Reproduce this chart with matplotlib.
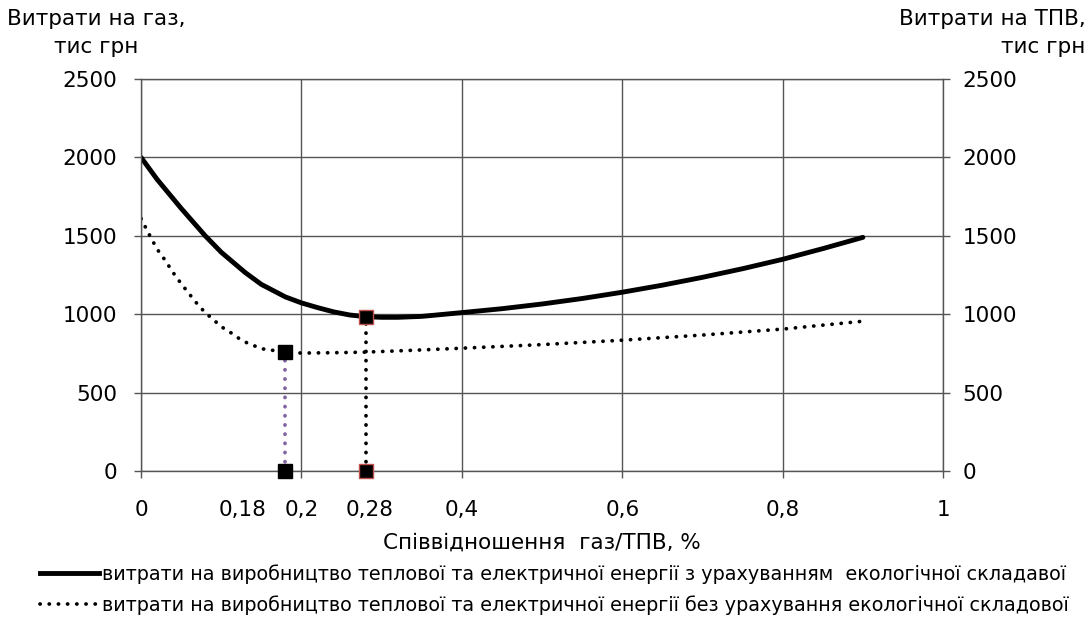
import matplotlib
matplotlib.use('Agg')
import matplotlib.pyplot as plt
import matplotlib.transforms as mtransforms
from matplotlib.lines import Line2D

plt.rcParams['font.family'] = ['DejaVu Sans']

# співвідношення газ/ТПВ
x_eco = [0, 0.02, 0.05, 0.08, 0.1, 0.13, 0.15, 0.18, 0.2, 0.22, 0.24, 0.26, 0.28,
         0.3, 0.32, 0.35, 0.4, 0.45, 0.5, 0.55, 0.6, 0.65, 0.7, 0.75, 0.8, 0.85, 0.9]
cost_eco = [2000, 1860, 1675, 1500, 1395, 1265, 1190, 1110, 1072, 1042, 1015, 995, 984,
            980, 980, 986, 1010, 1035, 1065, 1100, 1140, 1185, 1235, 1290, 1350, 1418, 1490]

x_no_eco = [0, 0.01, 0.02, 0.03, 0.04, 0.05, 0.06, 0.07, 0.08, 0.09, 0.1, 0.11,
            0.12, 0.13, 0.15, 0.18, 0.2, 0.25, 0.28, 0.3, 0.35, 0.4, 0.5, 0.6,
            0.7, 0.8, 0.9]
cost_no_eco = [1610, 1510, 1415, 1344, 1265, 1195, 1130, 1066, 1010, 966, 920, 889,
               852, 822, 780, 758, 752, 755, 758, 762, 772, 783, 806, 834,
               867, 905, 955]

opt_no_eco = (0.18, 758)
opt_eco = (0.28, 982)

x_ticks = [0, 0.2, 0.4, 0.6, 0.8, 1]
x_labels = ['0', '0,2', '0,4', '0,6', '0,8', '1']
y_ticks = [0, 500, 1000, 1500, 2000, 2500]

label_eco = 'витрати на виробництво теплової та електричної енергії з урахуванням  екологічної складавої'
label_no_eco = 'витрати на виробництво теплової та електричної енергії без урахування екологічної складової'

grid_c = '#555555'
fs = 15.5
dots = (0, (0.05, 2.4))

fig = plt.figure(figsize=(10.9, 6.22), dpi=100)
ax = fig.add_axes([0.1294, 0.2428, 0.7358, 0.6302])

ax.set_xlim(0, 1)
ax.set_ylim(0, 2500)
ax.set_xticks(x_ticks)
ax.set_xticklabels(x_labels)
ax.set_yticks(y_ticks)
ax.grid(True, color=grid_c, linewidth=1.0)
ax.set_axisbelow(True)
for s in ax.spines.values():
    s.set_color(grid_c)
    s.set_linewidth(1.0)
ax.tick_params(axis='both', colors=grid_c, labelcolor='black', labelsize=fs,
               length=5, width=1.0)
ax.tick_params(axis='x', pad=16)
ax.tick_params(axis='y', pad=12)

ax2 = ax.twinx()
ax2.set_ylim(0, 2500)
ax2.set_yticks(y_ticks)
ax2.tick_params(axis='y', colors=grid_c, labelcolor='black', labelsize=fs,
                length=5, width=1.0, pad=9)
for s in ax2.spines.values():
    s.set_visible(False)

# криві
ax.plot(x_eco, cost_eco, color='black', linewidth=3.5, solid_capstyle='round',
        solid_joinstyle='round')
ax.plot(x_no_eco, cost_no_eco, color='black', linewidth=2.7,
        linestyle=dots, dash_capstyle='round')

# оптимуми
ax.plot([opt_no_eco[0], opt_no_eco[0]], [0, opt_no_eco[1]], color='#8064A2',
        linewidth=2.7, linestyle=dots, dash_capstyle='round')
ax.plot([opt_eco[0], opt_eco[0]], [0, opt_eco[1]], color='black',
        linewidth=2.7, linestyle=dots, dash_capstyle='round')
ax.plot([opt_no_eco[0], opt_no_eco[0]], [0, opt_no_eco[1]], linestyle='none',
        marker='s', markersize=9.5, color='black', clip_on=False, zorder=5)
ax.plot([opt_eco[0], opt_eco[0]], [0, opt_eco[1]], linestyle='none',
        marker='s', markersize=9.5, markerfacecolor='black',
        markeredgecolor='#C0504D', markeredgewidth=1.0, clip_on=False, zorder=5)

# додаткові підписи осі x
trans = mtransforms.blended_transform_factory(ax.transData, ax.transAxes)
ax.annotate('0,18', xy=(opt_no_eco[0], 0), xycoords=trans, xytext=(-31, -21),
            textcoords='offset points', ha='center', va='top', fontsize=fs)
ax.annotate('0,28', xy=(opt_eco[0], 0), xycoords=trans, xytext=(3, -21),
            textcoords='offset points', ha='center', va='top', fontsize=fs)

ax.set_xlabel('Співвідношення  газ/ТПВ, %', fontsize=fs, labelpad=9)

fig.text(0.088, 0.985, 'Витрати на газ,\nтис грн', ha='center', va='top',
         fontsize=fs, linespacing=1.5)
fig.text(0.996, 0.985, 'Витрати на ТПВ,\nтис грн', ha='right', va='top',
         fontsize=fs, linespacing=1.5, multialignment='right')

handles = [
    Line2D([], [], color='black', linewidth=3.5),
    Line2D([], [], color='black', linewidth=2.7, linestyle=dots,
           dash_capstyle='round'),
]
fig.legend(handles, [label_eco, label_no_eco], loc='upper left',
           bbox_to_anchor=(0.0367, 0.093), frameon=False, fontsize=13.75,
           handlelength=3.1, handletextpad=0.15, labelspacing=0.58,
           borderaxespad=0, borderpad=0)

fig.savefig('out.png', dpi=100)
